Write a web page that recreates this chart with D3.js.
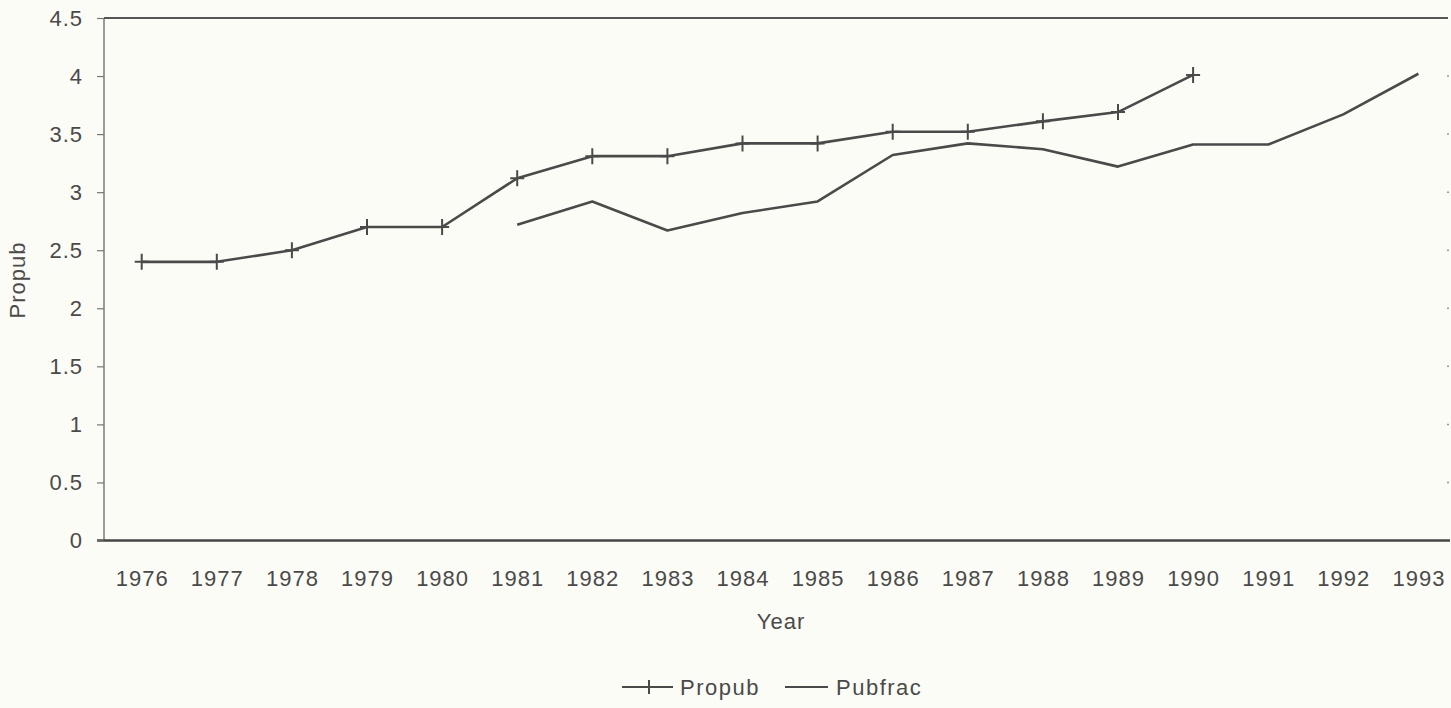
<!DOCTYPE html>
<html><head><meta charset="utf-8">
<script src="https://cdn.jsdelivr.net/npm/d3@7"></script>
<style>
html,body{margin:0;padding:0;background:#fcfcf6;}
svg{display:block;}
text{font-family:"Liberation Sans",Arial,sans-serif;fill:#4a4a4a;}
</style></head>
<body><svg id="c" width="1451" height="708"></svg>
<script>
const years = [1976,1977,1978,1979,1980,1981,1982,1983,1984,1985,1986,1987,1988,1989,1990,1991,1992,1993];
const propub = [2.4,2.4,2.5,2.7,2.7,3.12,3.31,3.31,3.42,3.42,3.52,3.52,3.61,3.69,4.01,null,null,null];
const pubfrac = [null,null,null,null,null,2.72,2.92,2.67,2.82,2.92,3.32,3.42,3.37,3.22,3.41,3.41,3.67,4.02];
const yTicks = [0,0.5,1,1.5,2,2.5,3,3.5,4,4.5];
const yTickLabels = ["0","0.5","1","1.5","2","2.5","3","3.5","4","4.5"];
const seriesNames = ["Propub","Pubfrac"];

const svg = d3.select("#c");
const pL = 104, pR = 1448, pT = 18, pB = 540.5;
const x = d3.scalePoint().domain(years).range([141.7, 1418.4]);
const y = d3.scaleLinear().domain([0,4.5]).range([pB, pT]);
const ink = "#4a4a4a";

// frame
svg.append("line").attr("x1",pL).attr("x2",pL).attr("y1",pT).attr("y2",pB)
  .attr("stroke","#7a7a7a").attr("stroke-width",1.5);
svg.append("line").attr("x1",pL).attr("x2",pR).attr("y1",pT).attr("y2",pT)
  .attr("stroke","#555").attr("stroke-width",2);
svg.append("line").attr("x1",97).attr("x2",1450).attr("y1",pB).attr("y2",pB)
  .attr("stroke","#444").attr("stroke-width",2.5);

// y axis
const yAxis = d3.axisLeft(y).tickValues(yTicks).tickFormat((d,i)=>yTickLabels[i]).tickSize(7).tickPadding(14);
const ga = svg.append("g").attr("transform",`translate(${pL},0)`).call(yAxis);
ga.select(".domain").remove();
ga.selectAll(".tick line").attr("stroke","#777").attr("stroke-width",1.2);
ga.selectAll(".tick text").attr("font-size",22).attr("fill","#4a4a4a").style("letter-spacing","1px");

// right side small ticks
svg.append("g").selectAll("line").data(yTicks.slice(1,-1)).join("line")
  .attr("x1",pR-1).attr("x2",pR+1).attr("y1",d=>y(d)).attr("y2",d=>y(d))
  .attr("stroke","#999").attr("stroke-width",1.5);

// x axis labels
const xAxis = d3.axisBottom(x).tickSize(0).tickPadding(30);
const gx = svg.append("g").attr("transform",`translate(0,${pB})`).call(xAxis);
gx.select(".domain").remove();
gx.selectAll(".tick text").attr("font-size",22).attr("fill","#4a4a4a").style("letter-spacing","1px");

// axis titles
svg.append("text").attr("x",781).attr("y",629).attr("text-anchor","middle").attr("font-size",22)
  .style("letter-spacing","1px").text("Year");
svg.append("text").attr("transform","translate(25,280) rotate(-90)").attr("text-anchor","middle")
  .attr("font-size",22).style("letter-spacing","1px").text("Propub");

// lines
const line = d3.line().defined(d=>d.v!=null).x(d=>x(d.yr)).y(d=>y(d.v));
const pData = years.map((yr,i)=>({yr,v:propub[i]}));
const fData = years.map((yr,i)=>({yr,v:pubfrac[i]}));
svg.append("path").datum(fData).attr("d",line).attr("fill","none").attr("stroke",ink).attr("stroke-width",2.6).attr("stroke-linejoin","round");
svg.append("path").datum(pData).attr("d",line).attr("fill","none").attr("stroke",ink).attr("stroke-width",2.6).attr("stroke-linejoin","round");
const pts = pData.filter(d=>d.v!=null);
svg.append("g").selectAll("path").data(pts).join("path")
  .attr("d",d=>`M${x(d.yr)},${y(d.v)-8}V${y(d.v)+8}M${x(d.yr)-7},${y(d.v)}H${x(d.yr)+7}`)
  .attr("stroke",ink).attr("stroke-width",2);

// legend
const lg = svg.append("g");
lg.append("line").attr("x1",622).attr("x2",673).attr("y1",687).attr("y2",687).attr("stroke",ink).attr("stroke-width",2.2);
lg.append("path").attr("d","M649,680V694").attr("stroke",ink).attr("stroke-width",2);
lg.append("text").attr("x",680).attr("y",695).attr("font-size",22).style("letter-spacing","1.5px").text(seriesNames[0]);
lg.append("line").attr("x1",785).attr("x2",828).attr("y1",687).attr("y2",687).attr("stroke",ink).attr("stroke-width",2.2);
lg.append("text").attr("x",836).attr("y",695).attr("font-size",22).style("letter-spacing","1.5px").text(seriesNames[1]);
</script></body></html>
